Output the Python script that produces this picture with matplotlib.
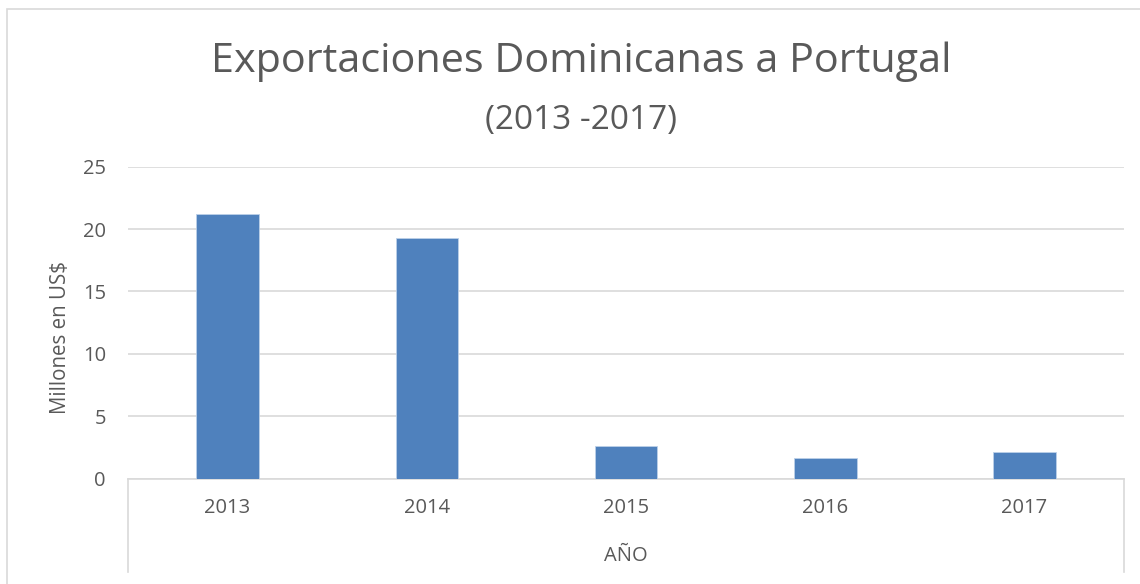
#Exportaciones dominicanas a Portugal
import numpy as np
import matplotlib.pyplot as plt
from matplotlib.patches import Rectangle
from matplotlib.lines import Line2D

anios = ["2013", "2014", "2015", "2016", "2017"]
valores = [21.2, 19.25, 2.65, 1.65, 2.1]
yticks = [0, 5, 10, 15, 20, 25]

gris = "#595959"
plt.rcParams["font.family"] = ["Open Sans", "DejaVu Sans"]

fig = plt.figure(figsize=(11.4, 5.84), dpi=100)
ax = fig.add_axes([0.1123, 0.1803, 0.8737, 0.5343])

x = np.arange(len(anios))
ax.bar(x, valores, width=0.314, color="#4f81bd", edgecolor="#bcd0e8", linewidth=0.6, zorder=3)

ax.set_xlim(-0.5, len(anios) - 0.5)
ax.set_ylim(0, 25)
ax.set_yticks(yticks)
ax.set_xticks(x)
ax.set_xticklabels(anios)
ax.tick_params(axis="both", length=0, colors=gris, labelsize=14.5)
ax.tick_params(axis="x", pad=14)
ax.tick_params(axis="y", pad=16)
ax.grid(axis="y", color="#d9d9d9", linewidth=1.2, zorder=0)
for s in ["top", "right", "left"]:
    ax.spines[s].set_visible(False)
ax.spines["bottom"].set_color("#d9d9d9")
ax.spines["bottom"].set_linewidth(1.2)

ax.set_ylabel("Millones en US$", color=gris, fontsize=14.8)
ax.yaxis.set_label_coords(-57 / 996, 0.452)

# lineas verticales del eje de categorias
for xf in [128 / 1140, 1124 / 1140]:
    fig.add_artist(Line2D([xf, xf], [1 - 479 / 584, 1 - 572 / 584],
                          color="#d9d9d9", linewidth=1.2, transform=fig.transFigure))
fig.text(626 / 1140, 1 - 556 / 584, "AÑO", ha="center", va="center", color=gris, fontsize=14.5)

# titulo
fig.text(581 / 1140, 1 - 62 / 584, "Exportaciones Dominicanas a Portugal",
         ha="center", va="center", color=gris, fontsize=29.8)
fig.text(581 / 1140, 1 - 121 / 584, "(2013 -2017)",
         ha="center", va="center", color=gris, fontsize=24)

# borde del grafico
fig.add_artist(Rectangle((7 / 1140, -0.1), 1.2, 1 - 9 / 584 + 0.1, transform=fig.transFigure,
                         fill=False, edgecolor="#d9d9d9", linewidth=1.2))

plt.savefig("out.png", dpi=100)
